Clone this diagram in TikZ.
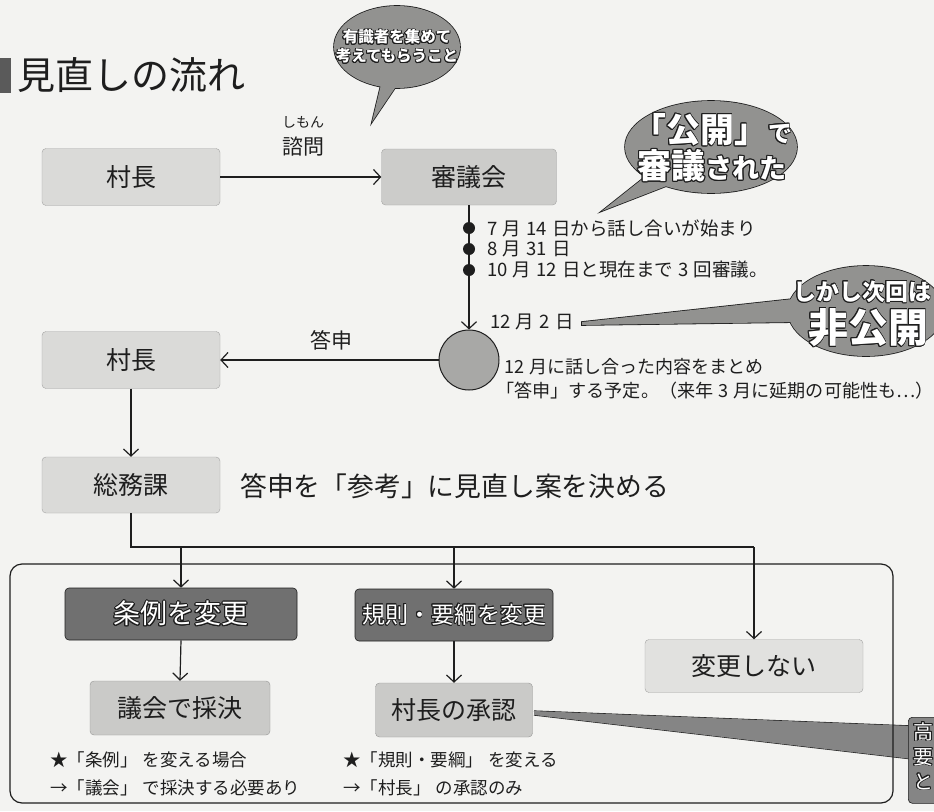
\documentclass[tikz,border=0pt]{standalone}
\usepackage{fontspec}
\setmainfont{Noto Sans CJK JP}
\usepackage[copies]{contour}
\contourlength{0.9pt}
\contournumber{16}
\usetikzlibrary{arrows.meta,shapes.geometric,calc}
\definecolor{bg}{HTML}{F3F3F1}
\definecolor{boxl}{HTML}{DADAD8}
\definecolor{boxm}{HTML}{CACAC8}
\definecolor{boxd}{HTML}{707070}
\definecolor{bub}{HTML}{929290}
\definecolor{circf}{HTML}{A8A8A6}
\definecolor{ink}{HTML}{1E1E1E}
\newcommand{\fsz}[2]{\fontsize{#1pt}{#2pt}\selectfont}
\newcommand{\wt}[1]{{\color{white}\contour{ink}{#1}}}
\newcommand{\jsp}{\hspace{0.28em}}
\tikzset{
  lbox/.style={rectangle, rounded corners=4pt, fill=boxl, draw=boxl!75!black, line width=0.4pt, inner sep=0pt, text=ink},
  mbox/.style={lbox, fill=boxm, draw=boxm!75!black},
  dbox/.style={rectangle, rounded corners=4pt, fill=boxd, draw=ink, line width=0.6pt, inner sep=0pt},
  arr/.style={draw=ink, line width=1.2pt, -{Straight Barb[length=7pt,width=15pt,line width=1.2pt]}},
  conn/.style={draw=ink, line width=1.2pt},
  tl/.style={anchor=west, inner sep=0pt, text=ink, font=\fsz{18.5}{22}},
  note/.style={anchor=west, inner sep=0pt, text=ink, font=\fsz{17.5}{20}},
  dotn/.style={circle, fill=ink, inner sep=0pt, minimum size=12pt},
  bubline/.style={draw=ink, line width=1.6pt},
}
\begin{document}
\begin{tikzpicture}[x=1pt,y=-1pt]
\fill[bg] (0,0) rectangle (934,811);
\useasboundingbox (0,0) rectangle (934,811);

% title
\fill[boxd!80!black] (0,58) rectangle (11,93);
\node[anchor=west, inner sep=0pt, text=ink, font=\fsz{38}{40}] (title) at (17,75) {見直しの流れ};

% bubble 1
\draw[bubline] (383,76) -- (372,122) -- (399,82);
\draw[bubline] (397,47) ellipse [x radius=63, y radius=41];
\fill[bub] (383,76) -- (372,122) -- (399,82) -- cycle;
\fill[bub] (397,47) ellipse [x radius=63, y radius=41];
\node[align=center, inner sep=0pt, font=\fsz{15.5}{19}\bfseries] (b1) at (397,47) {\wt{有識者を集めて}\\\wt{考えてもらうこと}};

% top row
\node[lbox, minimum width=178pt, minimum height=57pt, font=\fsz{25}{28}] (mayor1) at (131,177) {村長};
\node[lbox, fill=boxm!90!boxl, minimum width=175pt, minimum height=56pt, font=\fsz{25}{28}] (council) at (469,177) {審議会};
\draw[arr] (mayor1) -- (council);
\node[inner sep=0pt, text=ink, font=\fsz{14}{16}] (shimonr) at (303,122) {しもん};
\node[inner sep=0pt, text=ink, font=\fsz{21}{24}] (shimon) at (303,147) {諮問};

% bubble 2
\draw[bubline] (660,165) -- (602,211) -- (682,180);
\draw[bubline] (711,147) ellipse [x radius=86, y radius=46];
\fill[bub] (660,165) -- (602,211) -- (682,180) -- cycle;
\fill[bub] (711,147) ellipse [x radius=86, y radius=46];
\node[align=center, inner sep=0pt, font=\fsz{30}{36}\bfseries] (b2) at (712,148) {\wt{{\fsz{34}{36}「公開」}{\fsz{24}{36}で}}\\\wt{{\fsz{34}{36}審議}{\fsz{27}{36}された}}};

% timeline
\node[circle, fill=circf, draw=ink, line width=1pt, minimum size=60pt, inner sep=0pt] (circ) at (469,360) {};
\draw[arr] (council.south) -- (circ.north);
\node[dotn] (d1) at (469,228) {};
\node[dotn] (d2) at (469,249) {};
\node[dotn] (d3) at (469,270) {};
\node[tl] (t1) at (487,228) {7\jsp 月\jsp 14\jsp 日から話し合いが始まり};
\node[tl] (t2) at (487,249) {8\jsp 月\jsp 31\jsp 日};
\node[tl] (t3) at (487,270) {10\jsp 月\jsp 12\jsp 日と現在まで\jsp 3\jsp 回審議。};
\node[tl] (t4) at (490,322) {12\jsp 月\jsp 2\jsp 日};
\node[tl, font=\fsz{18}{22}] (t5) at (504,367) {12\jsp 月に話し合った内容をまとめ};
\node[tl, font=\fsz{18.1}{22}] (t6) at (496,391) {「答申」する予定。（来年\jsp 3\jsp 月に延期の可能性も…）};

% bubble 3
\draw[bubline] (582,322) -- (802,298) -- (802,322) -- (582,325) -- cycle;
\draw[bubline] (866,311) ellipse [x radius=78, y radius=45];
\fill[bub] (582,322) -- (802,298) -- (802,322) -- (582,325) -- cycle;
\fill[bub] (866,311) ellipse [x radius=78, y radius=45];
\node[align=center, inner sep=0pt, font=\fsz{23}{28}\bfseries] (b3a) at (862,292) {\wt{しかし次回は}};
\node[align=center, inner sep=0pt, font=\fsz{40}{44}\bfseries] (b3b) at (868,328) {\wt{非公開}};

% middle
\node[lbox, minimum width=178pt, minimum height=57pt, font=\fsz{25}{28}] (mayor2) at (131,360) {村長};
\draw[arr] (circ.west) -- (mayor2.east);
\node[inner sep=0pt, text=ink, font=\fsz{21}{24}] (toushin) at (331,340) {答申};
\node[lbox, minimum width=178pt, minimum height=56pt, font=\fsz{25}{28}] (soumu) at (131,485) {総務課};
\draw[arr] (mayor2.south) -- (soumu.north);
\node[anchor=west, inner sep=0pt, text=ink, font=\fsz{26.8}{30}] (soumut) at (240,486) {答申を「参考」に見直し案を決める};

% callout bottom right (tail first)
\draw[draw=ink, line width=1.2pt] (534,711) -- (912,726);
\draw[draw=ink, line width=1.2pt] (534,715) -- (912,759);
\fill[boxd!85!white] (534,711) -- (912,726) -- (912,759) -- (534,715) -- cycle;

% container
\draw[draw=ink, line width=1.2pt, rounded corners=12pt] (10,564) rectangle (893,803);

\node[dbox, fill=boxd!85!white, minimum width=60pt, minimum height=86pt, anchor=north west] (callout) at (908,717) {};
\node[anchor=north west, align=left, inner sep=0pt, font=\fsz{20}{25}] (calloutt) at (913,722) {\wt{高}\\\wt{要}\\\wt{と}};

% branches
\coordinate (br0) at (131,547);
\coordinate (br1) at (181,547);
\coordinate (br2) at (454,547);
\coordinate (br3) at (754,547);
\node[dbox, minimum width=232pt, minimum height=52pt, font=\fsz{27}{30}] (jourei) at (181,614) {\wt{条例を変更}};
\node[dbox, minimum width=198pt, minimum height=52pt, font=\fsz{23}{26}] (kisoku) at (454,615) {\wt{規則・要綱を変更}};
\node[lbox, fill=boxl!70!bg, minimum width=218pt, minimum height=53pt, font=\fsz{25}{28}] (nochange) at (754,666) {変更しない};
\draw[conn] (soumu.south) -- (br0) -- (br3);
\draw[arr] (br1) -- (jourei.north);
\draw[arr] (br2) -- (kisoku.north);
\draw[arr] (br3) -- (nochange.north);

\node[mbox, minimum width=180pt, minimum height=54pt, font=\fsz{25}{28}] (gikai) at (180,708) {議会で採決};
\node[mbox, minimum width=157pt, minimum height=54pt, font=\fsz{25}{28}] (shounin) at (454,710) {村長の承認};
\draw[arr] (jourei.south) -- (gikai.north);
\draw[arr] (kisoku.south) -- (shounin.north);

\node[note] (n1) at (50,760) {★「条例」\jsp を変える場合};
\node[note] (n2) at (50,788) {→「議会」\jsp で採決する必要あり};
\node[note] (n3) at (343,760) {★「規則・要綱」\jsp を変える};
\node[note] (n4) at (343,788) {→「村長」\jsp の承認のみ};
\end{tikzpicture}
\end{document}
